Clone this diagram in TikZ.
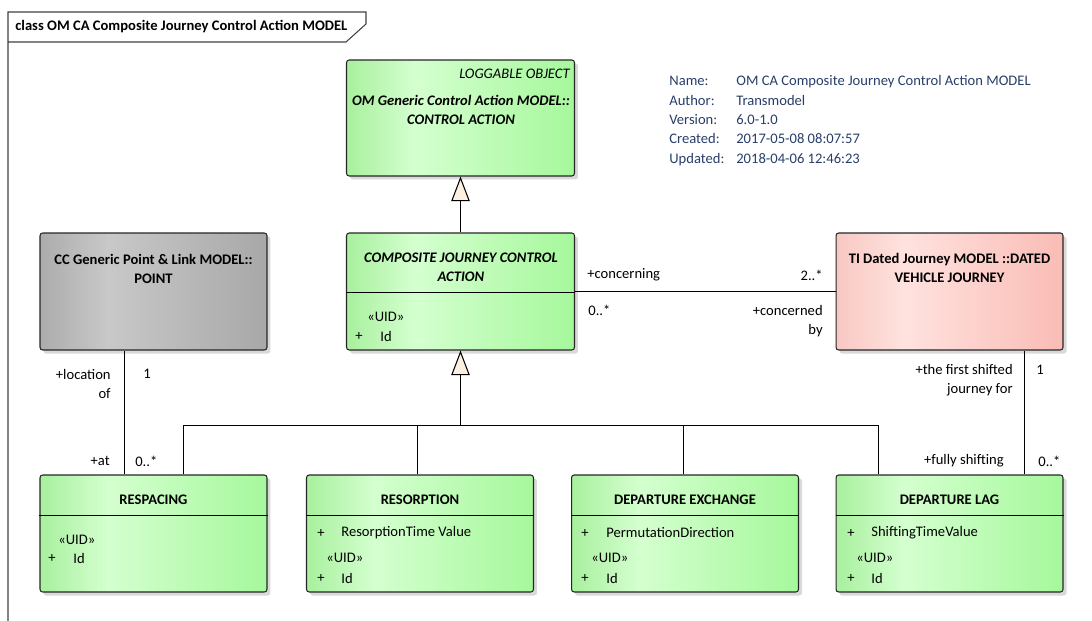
\documentclass[tikz,border=0pt]{standalone}
\usepackage{fontspec}
\setmainfont{Carlito}
\usetikzlibrary{arrows.meta,shadows}

\newcommand{\umlsize}{\fontsize{8.3}{11}\selectfont}

\definecolor{greenA}{RGB}{168,240,158}
\definecolor{greenB}{RGB}{212,255,207}
\definecolor{greenC}{RGB}{166,248,156}
\definecolor{pinkA}{RGB}{248,200,195}
\definecolor{pinkB}{RGB}{255,226,222}
\definecolor{pinkC}{RGB}{250,188,182}
\definecolor{grayA}{RGB}{172,172,172}
\definecolor{grayB}{RGB}{200,200,200}
\definecolor{grayC}{RGB}{168,168,168}
\definecolor{cream}{RGB}{252,240,225}
\definecolor{infoblue}{RGB}{40,62,105}

\pgfdeclarehorizontalshading{greenfade}{100bp}{color(0bp)=(greenA); color(25bp)=(greenA); color(40bp)=(greenB); color(75bp)=(greenC); color(100bp)=(greenC)}
\pgfdeclarehorizontalshading{pinkfade}{100bp}{color(0bp)=(pinkA); color(25bp)=(pinkA); color(40bp)=(pinkB); color(75bp)=(pinkC); color(100bp)=(pinkC)}
\pgfdeclarehorizontalshading{grayfade}{100bp}{color(0bp)=(grayA); color(25bp)=(grayA); color(40bp)=(grayB); color(75bp)=(grayC); color(100bp)=(grayC)}

\tikzset{
    umlbase/.style={ % common look of a class box
        draw=black!85,
        line width=0.6pt,
        rounded corners=1.5pt,
        shade,
        drop shadow={shadow xshift=2pt, shadow yshift=-2pt, fill=black!15, opacity=1},
        minimum width=4.54cm,
        minimum height=2.34cm,
        inner sep=0pt
    },
    greenclass/.style={umlbase, shading=greenfade}, % ordinary class
    pinkclass/.style={umlbase, shading=pinkfade}, % class of another package
    grayclass/.style={umlbase, shading=grayfade}, % generic class
    headtext/.style={font=\umlsize\bfseries, align=center, inner sep=0pt}, % class name
    abstext/.style={font=\umlsize\bfseries\itshape, align=center, inner sep=0pt}, % abstract class name
    attrtext/.style={font=\umlsize, anchor=west, inner sep=0pt}, % attribute line
    roletext/.style={font=\umlsize, inner sep=0pt}, % role and multiplicity
    genarrow/.style={-{Triangle[length=14pt, width=10.5pt, fill=cream]}, line width=0.6pt}, % generalization
    assoc/.style={line width=0.6pt} % association
}

\begin{document}
\begin{tikzpicture}[x=0.02cm, y=-0.02cm]
\useasboundingbox (0,0) rectangle (1092,621);

% frame
\draw[line width=0.6pt, black!75] (8,621) -- (8,12) -- (366,12) -- (366,24) -- (346,42) -- (8,42);
\node[headtext, anchor=west] (frametitle) at (15,27) {class OM CA Composite Journey Control Action MODEL};

% info block
\node[font=\umlsize, text=infoblue, anchor=west, inner sep=0pt] (info) at (669,120.5) {%
    \begin{tabular}{@{}p{1.34cm}@{}l@{}}
    Name: & OM CA Composite Journey Control Action MODEL\\
    Author: & Transmodel\\
    Version: & 6.0-1.0\\
    Created: & 2017-05-08 08:07:57\\
    Updated: & 2018-04-06 12:46:23
    \end{tabular}};

% classes
\node[greenclass, minimum width=4.56cm, minimum height=2.32cm] (ctrlact) at (460.5,118) {};
\node[greenclass, minimum width=4.56cm] (compjca) at (460.5,291.5) {};
\node[grayclass] (point) at (153.5,291.5) {};
\node[pinkclass] (dvj) at (949.5,291.5) {};
\node[greenclass] (respacing) at (153.5,533.5) {};
\node[greenclass] (resorption) at (420,533.5) {};
\node[greenclass] (depexch) at (685,533.5) {};
\node[greenclass] (deplag) at (949.5,533.5) {};

% compartments
\draw[assoc] ([yshift=-1.2cm]compjca.north west) -- ([yshift=-1.2cm]compjca.north east);
\foreach \cls in {respacing,resorption,depexch,deplag}
    \draw[assoc] ([yshift=-0.82cm]\cls.north west) -- ([yshift=-0.82cm]\cls.north east);

% class texts
\node[font=\umlsize\itshape, anchor=east, inner sep=0pt] (loggable) at (570,74) {LOGGABLE OBJECT};
\node[abstext] (ctrlhead) at (461,110) {OM Generic Control Action MODEL::\\CONTROL ACTION};
\node[abstext] (comphead) at (461,267) {COMPOSITE JOURNEY CONTROL\\ACTION};
\node[attrtext] (compuid) at (367,317) {«UID»};
\node[attrtext] (compplus) at (355,336) {+};
\node[attrtext] (compid) at (380,336) {Id};
\node[headtext] (pointhead) at (153.5,269) {CC Generic Point \& Link MODEL::\\POINT};
\node[headtext] (dvjhead) at (949.5,268) {TI Dated Journey MODEL ::DATED\\VEHICLE JOURNEY};

\node[headtext] (resphead) at (153.5,500) {RESPACING};
\node[attrtext] (respuid) at (58,540) {«UID»};
\node[attrtext] (respplus) at (48,558) {+};
\node[attrtext] (respid) at (73,558) {Id};

\node[headtext] (resohead) at (420,500) {RESORPTION};
\node[attrtext] (resoplus) at (317,533) {+};
\node[attrtext] (resoattr) at (341,533) {ResorptionTime Value};
\node[attrtext] (resouid) at (326,558) {«UID»};
\node[attrtext] (resoplustwo) at (317,578) {+};
\node[attrtext] (resoid) at (341,578) {Id};

\node[headtext] (exchhead) at (685,500) {DEPARTURE EXCHANGE};
\node[attrtext] (exchplus) at (581,533) {+};
\node[attrtext] (exchattr) at (606,533) {PermutationDirection};
\node[attrtext] (exchuid) at (591,558) {«UID»};
\node[attrtext] (exchplustwo) at (581,578) {+};
\node[attrtext] (exchid) at (606,578) {Id};

\node[headtext] (laghead) at (949.5,500) {DEPARTURE LAG};
\node[attrtext] (lagplus) at (847,533) {+};
\node[attrtext] (lagattr) at (871,533) {ShiftingTimeValue};
\node[attrtext] (laguid) at (856,558) {«UID»};
\node[attrtext] (lagplustwo) at (847,578) {+};
\node[attrtext] (lagid) at (871,578) {Id};

% generalizations
\coordinate (genbus) at (460.5,425.5);
\draw[genarrow] (compjca.north) -- (ctrlact.south);
\draw[assoc] ([xshift=0.6cm]respacing.north) |- (genbus) -| ([xshift=-1.42cm]deplag.north);
\draw[assoc] ([xshift=-0.05cm]resorption.north) -- ([xshift=-0.05cm]resorption.north |- genbus);
\draw[assoc] ([xshift=-0.03cm]depexch.north) -- ([xshift=-0.03cm]depexch.north |- genbus);
\draw[genarrow] (genbus) -- (compjca.south);

% associations
\draw[assoc] ([xshift=-0.58cm]point.south) -- ([xshift=-0.58cm]respacing.north);
\draw[assoc] (compjca.east) -- (dvj.west);
\draw[assoc] ([xshift=1.5cm]dvj.south) -- ([xshift=1.5cm]deplag.north);

% roles and multiplicities
\node[roletext, anchor=east, align=right] (locof) at (111,384) {+location\\of};
\node[roletext] (locone) at (147,374) {1};
\node[roletext, anchor=east] (at) at (110,461) {+at};
\node[roletext, anchor=west] (atmany) at (135,461) {0..*};
\node[roletext, anchor=west] (concerning) at (587,275) {+concerning};
\node[roletext, anchor=east] (concmany) at (823,275) {2..*};
\node[roletext, anchor=west] (concbymany) at (588,310) {0..*};
\node[roletext, anchor=east, align=right] (concby) at (823,321) {+concerned\\by};
\node[roletext, anchor=east, align=right] (firstshift) at (1013,380) {+the first shifted\\journey for};
\node[roletext] (firstone) at (1040,370) {1};
\node[roletext, anchor=east] (fullyshift) at (1004,461) {+fully shifting};
\node[roletext, anchor=west] (fullymany) at (1038,461) {0..*};

\end{tikzpicture}
\end{document}
